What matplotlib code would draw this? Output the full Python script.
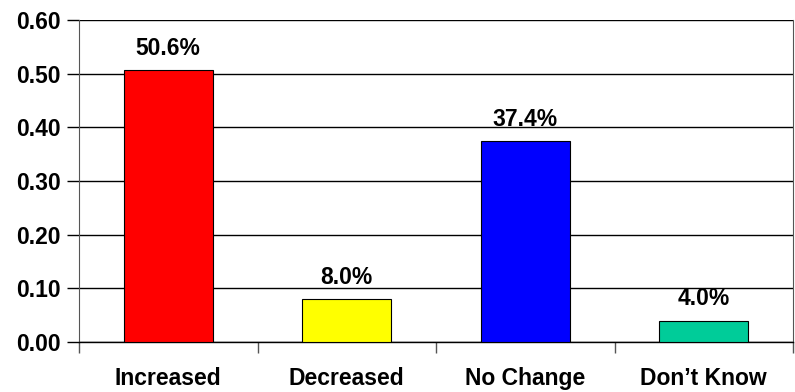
import numpy as np
import matplotlib
matplotlib.use("Agg")
import matplotlib.pyplot as plt

# datos
categories = ["Increased", "Decreased", "No Change", "Don\u2019t Know"]
values = [0.506, 0.080, 0.374, 0.040]
bar_labels = ["50.6%", "8.0%", "37.4%", "4.0%"]
colors = ["#FF0000", "#FFFF00", "#0000FF", "#00CC99"]
yticks = [0.0, 0.1, 0.2, 0.3, 0.4, 0.5, 0.6]

plt.rcParams["font.family"] = ["Liberation Sans", "DejaVu Sans"]
plt.rcParams["font.weight"] = "bold"
FS = 16.5

fig = plt.figure(figsize=(7.95, 3.92), dpi=100)
ax = fig.add_axes([0.0994, 0.1276, 0.8981, 0.8214])

x = np.arange(len(categories))
ax.bar(x, values, width=0.5, color=colors, edgecolor="black", linewidth=0.8, zorder=3)

for xi, v, lab in zip(x, values, bar_labels):
    ax.text(xi, v + 0.019, lab, ha="center", va="bottom", fontsize=FS, fontweight="bold")

ax.set_xlim(-0.5, len(categories) - 0.5)
ax.set_ylim(0, 0.6)
ax.set_yticks(yticks)
ax.set_yticklabels([f"{t:.2f}" for t in yticks], fontsize=FS, fontweight="bold")
ax.yaxis.grid(True, color="black", linewidth=1.0, zorder=0)

# etiquetas en el centro, marcas en los límites de categoría
ax.set_xticks(x)
ax.set_xticklabels(categories, fontsize=FS, fontweight="bold")
ax.tick_params(axis="x", which="major", length=0, pad=18)
ax.set_xticks(np.arange(-0.5, len(categories)), minor=True)
ax.tick_params(axis="x", which="minor", length=8, width=1.0, color="#555555")
ax.tick_params(axis="y", length=9, width=1.0, pad=4)

ax.spines["top"].set_visible(False)
ax.spines["right"].set_color("#555555")
ax.spines["left"].set_color("#555555")
ax.spines["bottom"].set_linewidth(1.0)

fig.savefig("out.png", dpi=100)
